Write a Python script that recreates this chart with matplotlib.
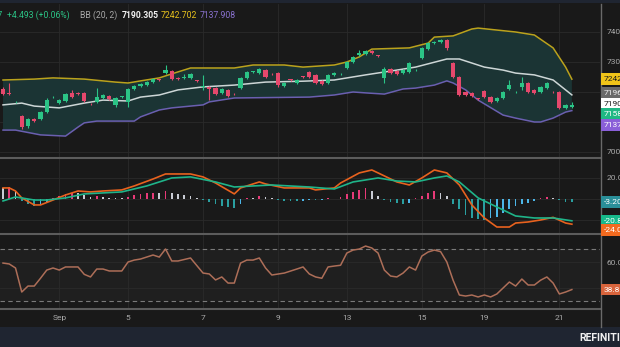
import matplotlib
matplotlib.use("Agg")
import matplotlib.pyplot as plt
from matplotlib.lines import Line2D
from matplotlib.patches import Rectangle
import numpy as np

plt.rcParams['font.family'] = ['Roboto', 'DejaVu Sans']

# ---- data -------------------------------------------------------------
opens = [7210, 7197, 7165, 7120, 7087, 7110, 7110, 7133, 7182, 7163,
         7170, 7197, 7197, 7197, 7161, 7167, 7180, 7187, 7157, 7183,
         7167, 7210, 7220, 7223, 7233, 7241, 7263, 7270, 7247, 7247,
         7247, 7238, 7216, 7217, 7213, 7197, 7207, 7194, 7213, 7247,
         7266, 7263, 7273, 7261, 7263, 7220, 7241, 7230, 7251, 7267,
         7257, 7237, 7230, 7257, 7259, 7280, 7300, 7323, 7327, 7337,
         7321, 7247, 7277, 7270, 7263, 7267, 7272, 7313, 7343, 7363,
         7367, 7373, 7297, 7250, 7200, 7197, 7178, 7203, 7183, 7170,
         7180, 7210, 7199, 7217, 7230, 7207, 7200, 7213, 7201, 7200,
         7147, 7151]
highs = [7216, 7230, 7170, 7123, 7113, 7113, 7136, 7180, 7186, 7176,
         7196, 7206, 7200, 7200, 7163, 7213, 7193, 7190, 7183, 7186,
         7213, 7223, 7230, 7236, 7246, 7243, 7290, 7273, 7250, 7260,
         7263, 7240, 7257, 7220, 7216, 7213, 7210, 7196, 7250, 7270,
         7269, 7280, 7276, 7263, 7267, 7233, 7243, 7243, 7253, 7270,
         7260, 7240, 7260, 7266, 7262, 7303, 7320, 7340, 7340, 7340,
         7323, 7283, 7280, 7273, 7276, 7300, 7275, 7350, 7366, 7370,
         7376, 7376, 7300, 7253, 7203, 7200, 7180, 7206, 7186, 7183,
         7203, 7240, 7202, 7250, 7233, 7210, 7220, 7233, 7203, 7203,
         7160, 7166]
lows = [7190, 7190, 7163, 7078, 7080, 7100, 7107, 7130, 7180, 7160,
        7167, 7180, 7190, 7167, 7157, 7164, 7177, 7174, 7150, 7181,
        7150, 7207, 7217, 7220, 7230, 7238, 7260, 7240, 7240, 7243,
        7244, 7234, 7207, 7173, 7190, 7194, 7184, 7190, 7210, 7244,
        7264, 7260, 7247, 7257, 7217, 7217, 7238, 7227, 7248, 7247,
        7227, 7224, 7227, 7254, 7257, 7277, 7297, 7320, 7324, 7327,
        7318, 7230, 7260, 7257, 7260, 7264, 7270, 7310, 7340, 7360,
        7364, 7340, 7247, 7187, 7187, 7184, 7174, 7180, 7164, 7167,
        7177, 7207, 7197, 7207, 7197, 7194, 7197, 7210, 7198, 7144,
        7144, 7148]
closes = [7193, 7193, 7168, 7083, 7110, 7103, 7133, 7173, 7184, 7173,
          7193, 7183, 7193, 7170, 7159, 7183, 7190, 7177, 7180, 7185,
          7210, 7220, 7227, 7233, 7243, 7240, 7273, 7243, 7243, 7250,
          7260, 7236, 7219, 7210, 7193, 7210, 7187, 7192, 7247, 7267,
          7268, 7277, 7250, 7259, 7223, 7230, 7240, 7240, 7250, 7250,
          7230, 7227, 7257, 7263, 7261, 7300, 7317, 7330, 7337, 7330,
          7320, 7277, 7263, 7260, 7273, 7297, 7274, 7347, 7363, 7367,
          7373, 7347, 7250, 7190, 7190, 7187, 7176, 7183, 7167, 7180,
          7200, 7223, 7201, 7230, 7200, 7197, 7217, 7230, 7199, 7147,
          7157, 7158.207]

# Bollinger (20, 2) band vertices: bar index and price
bb_up_bar = [0, 5, 8, 13, 18, 20, 22, 25, 28, 30, 37, 40, 45, 48, 53, 55, 57, 59,
             65, 68, 69, 72, 75, 76, 82, 85, 88, 90, 91]
bb_up = [7240, 7243, 7247, 7243, 7233, 7230, 7237, 7247, 7267, 7280, 7280, 7290,
         7290, 7283, 7290, 7300, 7317, 7343, 7347, 7363, 7383, 7387, 7410, 7413,
         7400, 7390, 7347, 7283, 7242.702]
bb_mid_bar = [0, 3, 5, 9, 13, 16, 20, 22, 25, 28, 32, 37, 42, 48, 53, 58, 63, 66,
              71, 73, 77, 80, 82, 85, 88, 91]
bb_mid = [7157, 7163, 7153, 7147, 7163, 7173, 7170, 7183, 7190, 7207, 7217, 7223,
          7233, 7236, 7240, 7257, 7273, 7283, 7310, 7310, 7283, 7273, 7263, 7257,
          7240, 7190.305]
bb_low_bar = [0, 2, 6, 10, 12, 13, 15, 21, 22, 25, 27, 32, 33, 37, 49, 53, 56, 58,
              61, 64, 66, 69, 71, 72, 74, 76, 80, 82, 85, 86, 88, 90, 91]
bb_low = [7073, 7073, 7057, 7053, 7083, 7097, 7103, 7103, 7117, 7140, 7147, 7157,
          7167, 7180, 7183, 7190, 7200, 7197, 7193, 7210, 7213, 7223, 7237, 7230,
          7207, 7173, 7123, 7113, 7100, 7100, 7113, 7133, 7137.908]

# MACD (line and signal) vertices, histogram per bar
macd_bar = [0, 1, 2, 3, 5, 6, 8, 10, 12, 14, 16, 19, 21, 24, 26, 30, 32, 34, 37, 38,
            41, 42, 45, 49, 50, 53, 54, 57, 59, 60, 63, 65, 67, 69, 71, 73, 75, 77,
            79, 81, 82, 84, 86, 88, 90, 91]
macd = [10.5, 10.5, 7.6, 1.0, -5.7, -5.7, -1.0, 3.8, 7.6, 6.7, 7.6, 8.6, 12.4, 19.0,
        23.8, 23.8, 21.0, 15.2, 4.8, 10.5, 16.2, 14.3, 10.5, 10.5, 8.6, 10.5, 15.2,
        24.8, 27.6, 24.8, 16.2, 13.3, 20.0, 27.6, 24.8, 13.3, -5.7, -18.1, -26.7,
        -26.7, -22.9, -21.9, -20.0, -17.5, -22.9, -24.0]
sig_bar = [0, 2, 5, 7, 10, 13, 19, 23, 27, 30, 34, 37, 40, 43, 49, 53, 56, 60, 63,
           66, 69, 71, 73, 76, 80, 82, 85, 88, 91]
signal = [-1.9, 1.9, -1.0, -1.0, 1.0, 4.8, 6.7, 12.4, 20.0, 21.0, 16.2, 11.4, 12.4,
          13.3, 11.4, 9.5, 16.2, 20.0, 17.1, 16.2, 20.0, 21.9, 16.2, 1.0, -10.5,
          -16.2, -18.1, -18.1, -20.8]
hist = [10, 11, 8, -2, -5, -7, -6, -3, 1, 3,
        5, 6, 6, 4, 2, 2.5, 1.5, 1, 1, 1,
        2, 4, 5, 5.5, 6, 5.8, 8, 6, 4.5, 4,
        3, 1, -1, -3, -5, -7, -8, -9, -5, 1,
        1, 3, 2, 1, -1, -1.5, -2, -2, -1.5, -1,
        -1.2, -0.8, 0.5, 0.4, 2, 5, 7, 9, 10.5, 8,
        3, -1, -3, -4, -5, -4, 1, 3, 6, 8,
        6, 3, -5, -10, -15, -18, -19, -20, -18, -17,
        -13, -10, -7, -5, -4, -2, 1, 2, 1, -1,
        -3, -3.2]

# RSI vertices
rsi_bar = [0, 1, 2, 3, 4, 5, 6, 7, 8, 9, 10, 12, 13, 14, 15, 16, 17, 19, 20, 21,
           22, 24, 25, 26, 27, 28, 30, 32, 33, 34, 35, 36, 37, 38, 39, 40, 41, 42,
           43, 45, 47, 48, 49, 50, 51, 52, 53, 54, 55, 56, 57, 58, 59, 60, 61, 62,
           63, 64, 65, 66, 67, 68, 69, 70, 71, 72, 73, 74, 75, 76, 77, 78, 79, 80,
           81, 82, 83, 84, 85, 86, 87, 88, 89, 90, 91]
rsi = [59.2, 58.5, 55.4, 36.9, 41.5, 41.5, 47.5, 53.8, 55.4, 53.8, 56.2, 56.2, 50.5,
       48.5, 54.6, 54.6, 53.1, 53.1, 60.0, 61.5, 62.3, 65.4, 63.8, 70.0, 60.8, 60.8,
       63.1, 51.5, 50.8, 46.2, 48.5, 43.8, 43.8, 59.2, 61.5, 61.5, 63.1, 55.4, 50.0,
       51.5, 54.6, 56.2, 50.8, 48.5, 47.5, 56.2, 56.9, 57.5, 66.9, 69.2, 70.0, 72.3,
       70.8, 66.9, 53.8, 49.2, 48.5, 51.5, 56.2, 53.8, 64.6, 67.7, 69.2, 68.0, 60.0,
       46.0, 34.6, 33.8, 34.6, 33.1, 34.6, 33.1, 35.4, 40.0, 44.6, 41.5, 46.9, 42.3,
       42.3, 46.0, 48.5, 43.8, 35.4, 36.9, 38.8]

day_bars = [9, 20, 32, 44, 55, 67, 77, 89]
day_labels = ["Sep", "5", "7", "9", "13", "15", "19", "21"]

# ---- style ------------------------------------------------------------
BG = "#191919"
GRID = "#2a2a2a"
TXT = "#a9a9a9"
UP = "#2bc486"
DOWN = "#e5486c"
W, H = 620, 347

fig = plt.figure(figsize=(W / 100, H / 100), dpi=100, facecolor=BG)


def box(top, bottom):
    return [0, 1 - bottom / H, 600 / W, (bottom - top) / H]


ax_p = fig.add_axes(box(4, 157))
ax_m = fig.add_axes(box(158, 233))
ax_r = fig.add_axes(box(235, 308))

for ax in (ax_p, ax_m, ax_r):
    ax.set_facecolor(BG)
    for s in ax.spines.values():
        s.set_visible(False)
    ax.set_xlim(-0.48, 95.5)
    ax.set_xticks(day_bars)
    ax.yaxis.tick_right()
    ax.tick_params(length=0, labelsize=6, colors=TXT, pad=5)
    ax.grid(True, color=GRID, lw=0.6)
    ax.set_axisbelow(True)
ax_p.tick_params(labelbottom=False)
ax_m.tick_params(labelbottom=False)
ax_r.set_xticklabels(day_labels)
ax_r.tick_params(axis="x", pad=5)

# price panel
ax_p.set_ylim(6983.3, 7493.3)
ax_p.set_yticks([7000, 7100, 7200, 7300, 7400])
ax_p.fill(np.r_[bb_up_bar, bb_low_bar[::-1]], np.r_[bb_up, bb_low[::-1]],
          color="#1b3434", lw=0, zorder=1)
ax_p.plot(bb_up_bar, bb_up, color="#bba21c", lw=1.1, zorder=2)
ax_p.plot(bb_mid_bar, bb_mid, color="#cdd6d6", lw=1.1, zorder=2)
ax_p.plot(bb_low_bar, bb_low, color="#6a5fb0", lw=1.1, zorder=2)

o, h, l, c = map(np.array, (opens, highs, lows, closes))
bars = np.arange(len(o))
col = np.where(c >= o, UP, DOWN)
ax_p.vlines(bars, l, h, colors=col, lw=0.8, zorder=3)
ax_p.bar(bars, np.maximum(np.abs(c - o), 2.5), bottom=np.minimum(o, c),
         width=0.68, color=col, zorder=4)

# MACD panel
ax_m.set_ylim(-32.4, 39.0)
ax_m.set_yticks([-20, 0, 20])
ax_m.yaxis.set_major_formatter(lambda v, p: f"{v:.1f}")
hcol = []
for k, v in enumerate(hist):
    prev = hist[k - 1] if k else v
    if v >= 0:
        hcol.append("#e83a78" if v > prev else "#c9ccd4")
    else:
        hcol.append("#4cb6e8" if v > prev else "#2a9fa0")
ax_m.bar(bars, hist, width=0.28, color=hcol, zorder=2)
ax_m.plot(macd_bar, macd, color="#e8621e", lw=1.2, zorder=3)
ax_m.plot(sig_bar, signal, color="#1fb489", lw=1.2, zorder=3)

# RSI panel
ax_r.set_ylim(24.6, 80.8)
ax_r.set_yticks([40, 60])
ax_r.yaxis.set_major_formatter(lambda v, p: f"{v:.1f}")
ax_r.axhspan(30, 70, color="#1f1f1f", lw=0, zorder=0)
for lvl in (30, 70):
    ax_r.axhline(lvl, color="#7a7a7a", lw=0.8, ls=(0, (4, 3)), zorder=1)
ax_r.plot(rsi_bar, rsi, color="#ad6e58", lw=1.1, zorder=3)

# panel separators and frame
for y in (157.5, 234, 308.5):
    fig.add_artist(Line2D([0, 601 / W], [1 - y / H] * 2, color="#5c5c5c", lw=1.5))
fig.add_artist(Line2D([601 / W] * 2, [1 - 327 / H, 1 - 4 / H], color="#6a6a6a", lw=1))
fig.add_artist(Rectangle((0, 1 - 3 / H), 1, 3 / H, color="#1f2531", lw=0))
fig.add_artist(Rectangle((0, 0), 1, 20 / H, color="#1f2531", lw=0))
fig.text(579 / W, 1 - 338 / H, "REFINITIV", color="#f0f0f0", fontsize=7.6,
         fontweight="bold", va="center", ha="left")

# header legend
hy = 1 - 15 / H
fig.text(3 / W, hy, "7158.207", color=UP, fontsize=6.2, ha="right", va="center")
fig.text(7 / W, hy, "+4.493 (+0.06%)", color=UP, fontsize=6.2, va="center")
fig.text(80 / W, hy, "BB (20, 2)", color=TXT, fontsize=6.2, va="center")
fig.text(122 / W, hy, f"{bb_mid[-1]:.3f}", color="#f2f2f2", fontsize=6.2,
         va="center", fontweight="bold")
fig.text(161 / W, hy, f"{bb_up[-1]:.3f}", color="#e8c21c", fontsize=6.2, va="center")
fig.text(200 / W, hy, f"{bb_low[-1]:.3f}", color="#8a72d0", fontsize=6.2, va="center")


def side_labels(ax, items, gap):
    # value tags on the right scale, pushed apart where they would overlap
    pos = []
    for v, txt, fc, tc in items:
        py = H - ax.transData.transform((0, v))[1]
        pos.append([py, txt, fc, tc])
    pos.sort(key=lambda r: r[0])
    for k in range(1, len(pos)):
        pos[k][0] = max(pos[k][0], pos[k - 1][0] + gap)
    for py, txt, fc, tc in pos:
        fig.text(604 / W, 1 - py / H, txt, color=tc, fontsize=6, va="center",
                 ha="left", bbox=dict(boxstyle="square,pad=0.35", fc=fc, ec="none"))


side_labels(ax_p, [(bb_up[-1], f"{bb_up[-1]:.3f}", "#f0c419", "#1a1a1a"),
                   (7196.1, "7196.100", "#6a6a6a", "#f0f0f0"),
                   (bb_mid[-1], f"{bb_mid[-1]:.3f}", "#ffffff", "#1a1a1a"),
                   (closes[-1], f"{closes[-1]:.3f}", "#1fb884", "#ffffff"),
                   (bb_low[-1], f"{bb_low[-1]:.3f}", "#8a5fd8", "#ffffff")], 10.5)
side_labels(ax_m, [(hist[-1], f"{hist[-1]:.3f}", "#2a8f99", "#ffffff"),
                   (signal[-1], f"{signal[-1]:.3f}", "#17b98b", "#ffffff"),
                   (macd[-1], f"{macd[-1]:.3f}", "#f26a1f", "#ffffff")], 9.5)
side_labels(ax_r, [(rsi[-1], f"{rsi[-1]:.1f}", "#d8643c", "#ffffff")], 10)

fig.savefig("out.png", dpi=100, facecolor=BG)
